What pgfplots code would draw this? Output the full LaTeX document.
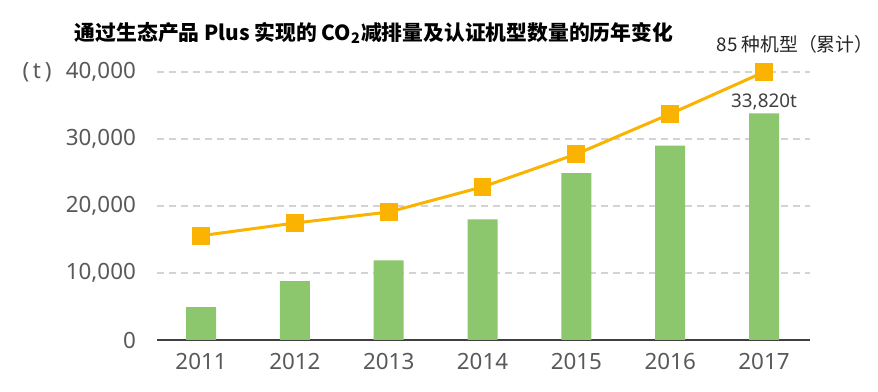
\documentclass[border=0pt]{standalone}
\usepackage{fontspec}
\usepackage{pgfplots}
\pgfplotsset{compat=1.18}
\setmainfont{Noto Sans}
\newfontfamily\cjk{Noto Sans CJK SC}
\definecolor{barg}{HTML}{8CC66D}
\definecolor{lineo}{HTML}{F9B300}
\definecolor{tickc}{HTML}{595959}
\definecolor{gridc}{HTML}{D3D3D3}
\definecolor{axc}{HTML}{404040}
\begin{document}
\begin{tikzpicture}
\path[use as bounding box] (0pt,0pt) rectangle (439pt,195.5pt);
\begin{axis}[
  at={(78.5pt,25.5pt)}, anchor=south west,
  scale only axis, width=326.5pt, height=134pt,
  xmin=-0.47, xmax=6.49, ymin=0, ymax=40000,
  clip=false,
  axis x line*=bottom, axis y line*=left,
  y axis line style={draw=none},
  x axis line style={draw=axc, line width=1pt, -},
  xtick={0,1,2,3,4,5,6},
  xticklabels={2011,2012,2013,2014,2015,2016,2017},
  ytick={0,10000,20000,30000,40000},
  scaled y ticks=false,
  major tick length=0pt,
  tick style={draw=none},
  ymajorgrids,
  grid style={dash pattern=on 3.5pt off 2.5pt, draw=gridc, line width=0.8pt},
  /pgf/number format/.cd, 1000 sep={,}, assume math mode=true,
  /pgfplots/.cd,
  tick label style={font=\fontsize{11.2}{13}\selectfont, text=tickc},
  yticklabel style={xshift=-7pt},
  xticklabel style={yshift=-3pt},
]
\addplot[ybar, bar width=15pt, fill=barg, draw=none] coordinates {
  (0,4900) (1,8800) (2,11900) (3,18000) (4,24900) (5,29000) (6,33820)};
\addplot[color=lineo, line width=1.5pt, mark=square*, mark size=3.7pt,
  mark options={fill=lineo, draw=lineo, solid}] coordinates {
  (0,15570) (1,17460) (2,19100) (3,22850) (4,27750) (5,33750) (6,40000)};
\node[anchor=base, yshift=3pt, font=\fontsize{9.4}{11}\selectfont, text=axc, inner sep=0pt] at (axis cs:6,33820) {33,820t};
\end{axis}
\node[font=\cjk\fontsize{9.4}{11}\selectfont, text=black!85, inner sep=1pt] at (397.5pt,173.5pt) {85 种机型（累计）};
\node[font=\cjk\bfseries\fontsize{10.4}{12}\selectfont] at (187pt,179pt) {通过生态产品 Plus 实现的 CO\textsubscript{2}减排量及认证机型数量的历年变化};
\node[font=\fontsize{11.2}{13}\selectfont, text=tickc] at (18.5pt,159.5pt) {(\,t\,)};
\end{tikzpicture}
\end{document}
